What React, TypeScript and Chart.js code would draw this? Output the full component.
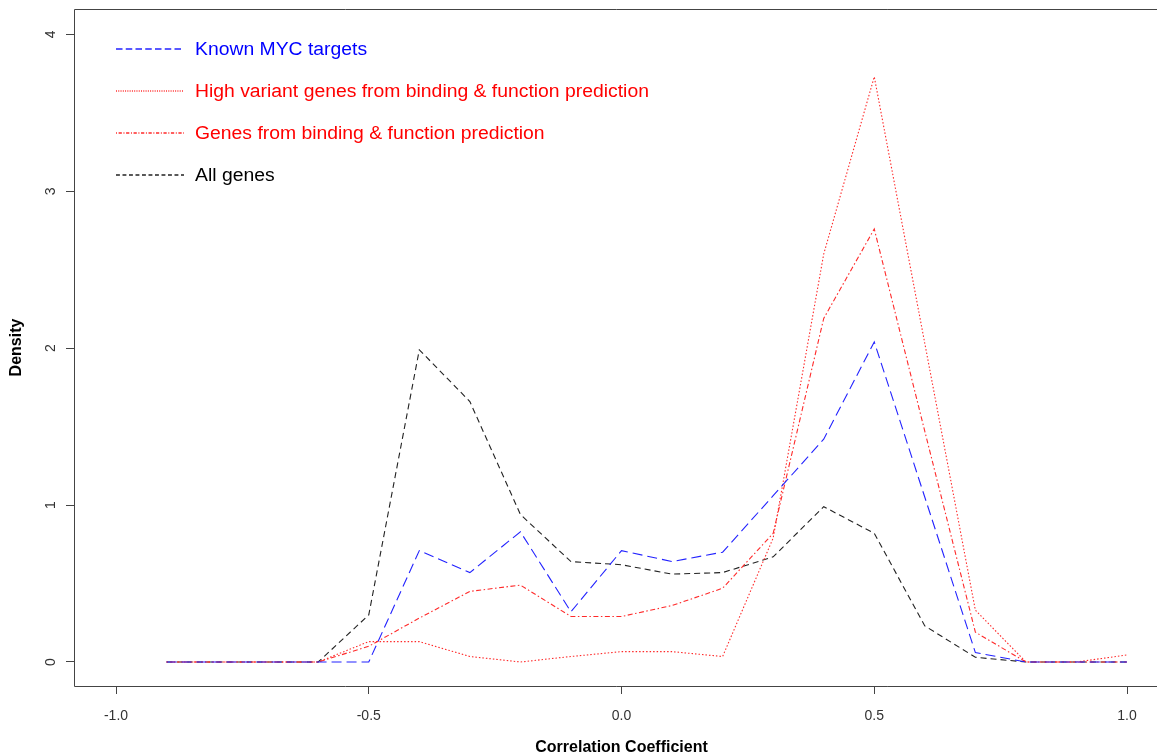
import React, { useEffect, useRef } from "react";
import { Chart, registerables } from "chart.js";

Chart.register(...registerables);

const xValues = [-0.9, -0.8, -0.7, -0.6, -0.5, -0.4, -0.3, -0.2, -0.1, 0, 0.1, 0.2, 0.3, 0.4, 0.5, 0.6, 0.7, 0.8, 0.9, 1.0];
const knownMyc = [0, 0, 0, 0, 0, 0.71, 0.57, 0.83, 0.32, 0.71, 0.64, 0.7, 1.06, 1.42, 2.04, 1.05, 0.06, 0, 0, 0];
const highVariant = [0, 0, 0, 0, 0.13, 0.13, 0.035, 0, 0.035, 0.066, 0.066, 0.035, 0.79, 2.6, 3.73, 2.03, 0.33, 0, 0, 0.045];
const genesBinding = [0, 0, 0, 0, 0.1, 0.28, 0.45, 0.49, 0.29, 0.29, 0.36, 0.47, 0.82, 2.19, 2.76, 1.47, 0.19, 0, 0, 0];
const allGenes = [0, 0, 0, 0, 0.3, 1.99, 1.66, 0.94, 0.64, 0.62, 0.56, 0.57, 0.67, 0.99, 0.82, 0.23, 0.03, 0, 0, 0];

const seriesLabels = [
  "Known MYC targets",
  "High variant genes from binding & function prediction",
  "Genes from binding & function prediction",
  "All genes",
];
const lineColors = ["#2222ff", "#ff2a2a", "#ff2a2a", "#222222"];
const textColors = ["#0000FF", "#FF0000", "#FF0000", "#000000"];
const dashes = [[10, 5], [1.5, 2], [1.5, 2.5, 5, 2.5], [6, 4]];
const xTicks = [-1, -0.5, 0, 0.5, 1];
const yTicks = [0, 1, 2, 3, 4];
const xTitle = "Correlation Coefficient";
const yTitle = "Density";

const FONT = "'Liberation Sans', Arial, sans-serif";

const toPoints = (arr: number[]) => xValues.map((x, i) => ({ x, y: arr[i] }));

const decorPlugin = {
  id: "decor",
  afterDraw(chart: any) {
    const ctx = chart.ctx;
    const { left, top, right, bottom } = chart.chartArea;
    const xs = chart.scales.x;
    const ys = chart.scales.y;
    ctx.save();
    // box (extends past right edge as in the original)
    ctx.strokeStyle = "#444";
    ctx.lineWidth = 1;
    ctx.setLineDash([]);
    ctx.beginPath();
    ctx.moveTo(right + 20, top + 0.5);
    ctx.lineTo(left + 0.5, top + 0.5);
    ctx.lineTo(left + 0.5, bottom + 0.5);
    ctx.lineTo(right + 20, bottom + 0.5);
    ctx.stroke();

    // y tick labels rotated
    ctx.fillStyle = "#333";
    ctx.font = `14px ${FONT}`;
    ctx.textAlign = "center";
    ctx.textBaseline = "middle";
    yTicks.forEach((v) => {
      const py = ys.getPixelForValue(v);
      ctx.save();
      ctx.translate(left - 23, py);
      ctx.rotate(-Math.PI / 2);
      ctx.fillText(String(v), 0, 0);
      ctx.restore();
    });

    // axis titles
    ctx.fillStyle = "#000";
    ctx.font = `bold 16px ${FONT}`;
    ctx.fillText(xTitle, xs.getPixelForValue(0), bottom + 62);
    ctx.save();
    ctx.translate(17, (top + bottom) / 2);
    ctx.rotate(-Math.PI / 2);
    ctx.fillText(yTitle, 0, 0);
    ctx.restore();

    // legend
    chart.data.datasets.forEach((ds: any, i: number) => {
      const y = top + 40 + i * 42;
      ctx.strokeStyle = lineColors[i];
      ctx.lineWidth = 1.6;
      ctx.setLineDash(dashes[i].map((d) => d * 0.65));
      ctx.beginPath();
      ctx.moveTo(left + 42, y);
      ctx.lineTo(left + 110, y);
      ctx.stroke();
      ctx.setLineDash([]);
      ctx.fillStyle = textColors[i];
      ctx.font = `18px ${FONT}`;
      ctx.textAlign = "left";
      ctx.textBaseline = "middle";
      ctx.save();
      ctx.translate(left + 121, y + 1);
      ctx.scale(1.075, 1);
      ctx.fillText(ds.label, 0, 0);
      ctx.restore();
    });
    ctx.restore();
  },
};

export default function App() {
  const ref = useRef<HTMLCanvasElement | null>(null);
  useEffect(() => {
    if (!ref.current) return;
    const series = [knownMyc, highVariant, genesBinding, allGenes];
    const chart = new Chart(ref.current, {
      type: "line",
      data: {
        datasets: series.map((arr, i) => ({
          label: seriesLabels[i],
          data: toPoints(arr),
          borderColor: lineColors[i],
          borderDash: dashes[i],
          borderWidth: 1.1,
          pointRadius: 0,
          tension: 0,
          fill: false,
        })),
      },
      options: {
        responsive: false,
        animation: false,
        layout: { padding: { top: 9, left: 0, right: 0, bottom: 0 } },
        plugins: { legend: { display: false }, tooltip: { enabled: false } },
        scales: {
          x: {
            type: "linear",
            min: -1.0831,
            max: 1.0593,
            afterFit: (s: any) => { s.height = 70; },
            afterBuildTicks: (s: any) => { s.ticks = xTicks.map((v) => ({ value: v })); },
            grid: { drawOnChartArea: false, drawTicks: true, tickLength: 8, tickColor: "#444", color: "#444" },
            border: { display: false },
            ticks: {
              color: "#333",
              font: { family: FONT, size: 14 },
              padding: 14,
              maxRotation: 0,
              autoSkip: false,
              callback: (v: any) => Number(v).toFixed(1),
            },
          },
          y: {
            type: "linear",
            min: -0.153,
            max: 4.162,
            afterFit: (s: any) => { s.width = 74; },
            afterBuildTicks: (s: any) => { s.ticks = yTicks.map((v) => ({ value: v })); },
            grid: { drawOnChartArea: false, drawTicks: true, tickLength: 8, tickColor: "#444", color: "#444" },
            border: { display: false },
            ticks: { display: false },
          },
        },
      },
      plugins: [decorPlugin],
    });
    return () => chart.destroy();
  }, []);
  return (
    <div style={{ position: "fixed", left: 0, top: 0, width: 1157, height: 756, background: "#fff" }}>
      <canvas ref={ref} width={1157} height={756} style={{ display: "block" }} />
    </div>
  );
}
